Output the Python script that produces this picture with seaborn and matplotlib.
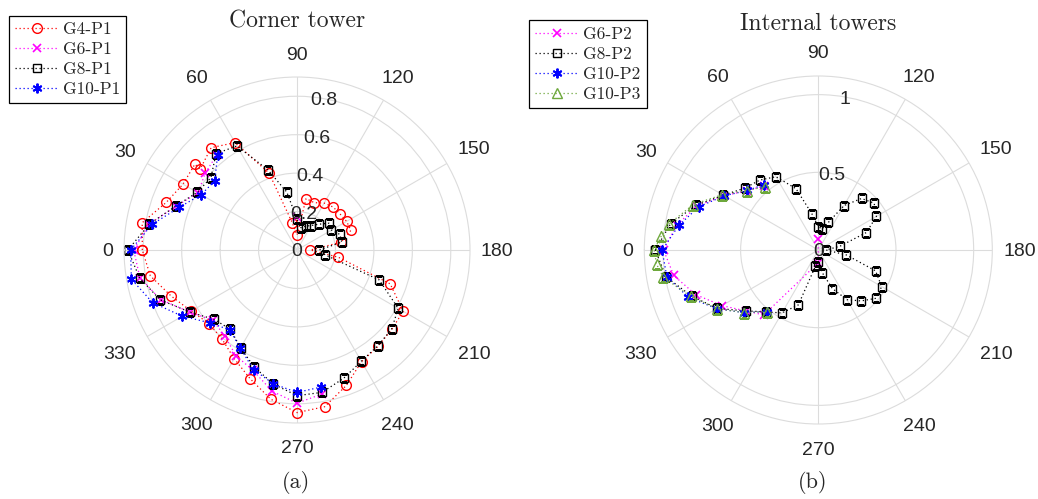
import numpy as np
import seaborn as sns
import matplotlib.pyplot as plt

# ---- (a) Corner tower ----
g4_p1_ang = [0, 10, 20, 30, 40, 40, 50, 60, 70, 80, 90, 100, 110, 120, 130, 140, 150, 160, 170, 180,
             190, 200, 210, 220, 230, 240, 250, 260, 270, 280, 290, 300, 310, 320, 330, 340, 350]
g4_p1_r = [0.805, 0.818, 0.724, 0.685, 0.694, 0.657, 0.695, 0.645, 0.426, 0.145,
           0.078, 0.272, 0.262, 0.282, 0.292, 0.292, 0.298, 0.298, 0.232, 0.07,
           0.219, 0.516, 0.638, 0.643, 0.655, 0.671, 0.75, 0.828, 0.846, 0.788,
           0.713, 0.653, 0.606, 0.596, 0.636, 0.698, 0.775]

g6_p1_ang = [260, 270, 280, 290, 300, 310, 320, 330, 340, 350, 0, 10, 20, 30, 40, 50]
g6_p1_r = [0.76, 0.797, 0.746, 0.667, 0.635, 0.585, 0.57, 0.645, 0.755, 0.83,
           0.85, 0.78, 0.668, 0.595, 0.623, 0.648]
g6_p1_extra_ang = [90]
g6_p1_extra_r = [0.173]

g8_p1_ang = [0, 10, 20, 30, 40, 50, 60, 70, 80, 90, 100, 110, 120, 130, 140, 150, 160, 170,
             180, 190, 200, 210, 220, 230, 240, 250, 260, 270, 280, 290, 300, 310, 320, 330, 340, 350]
g8_p1_r = [0.88, 0.78, 0.67, 0.60, 0.585, 0.655, 0.625, 0.444, 0.306, 0.16,
           0.118, 0.132, 0.147, 0.175, 0.217, 0.207, 0.237, 0.236, 0.115, 0.15,
           0.455, 0.608, 0.642, 0.652, 0.669, 0.71, 0.752, 0.758, 0.708, 0.649,
           0.588, 0.539, 0.562, 0.645, 0.758, 0.832]

g10_p1_ang = [260, 270, 280, 290, 300, 310, 320, 330, 340, 350, 0, 10, 20, 30, 40, 50]
g10_p1_r = [0.724, 0.741, 0.707, 0.662, 0.59, 0.543, 0.59, 0.689, 0.80, 0.875,
            0.866, 0.766, 0.651, 0.576, 0.559, 0.643]

# ---- (b) Internal towers ----
g6_p2_ang = [90, 270, 310, 320, 330, 340, 350, 0, 10, 20, 30, 40, 50]
g6_p2_r = [0.069, 0.082, 0.546, 0.61, 0.716, 0.84, 0.945, 0.996, 0.925, 0.83, 0.70, 0.595, 0.54]

g8_p2_ang = g8_p1_ang
g8_p2_r = [1.05, 0.966, 0.84, 0.706, 0.619, 0.587, 0.545, 0.42, 0.236, 0.151,
           0.138, 0.189, 0.33, 0.433, 0.469, 0.432, 0.329, 0.142, 0.05, 0.183,
           0.392, 0.471, 0.484, 0.428, 0.369, 0.264, 0.149, 0.08, 0.106, 0.376,
           0.468, 0.52, 0.61, 0.752, 0.868, 0.995]

g10_p2_ang = [310, 320, 330, 340, 350, 0, 10, 20, 30, 40, 50]
g10_p2_r = [0.517, 0.627, 0.755, 0.89, 0.99, 1.006, 0.912, 0.817, 0.698, 0.596, 0.548]

g10_p3_ang = [310, 320, 330, 340, 350, 355, 0, 5, 10, 20, 30, 40, 50]
g10_p3_r = [0.517, 0.627, 0.754, 0.874, 1.013, 1.045, 1.057, 1.015, 0.974, 0.856, 0.713, 0.595, 0.532]

DPI = 100
TICK_FONT = 'Liberation Sans'
SERIF = 'cmr10'
TICK_SIZE = 14
GRID = '#dcdcdc'
GREEN = '#6ea83c'

sns.set_style('white')

fig = plt.figure(figsize=(10.38, 4.99), dpi=DPI)


def series(ax, ang, r, color, marker, ms, label=None, close=False, mew=1.0):
    th = np.deg2rad(np.array(ang, dtype=float))
    rr = np.array(r, dtype=float)
    if close:
        th = np.append(th, th[0] + 2 * np.pi)
        rr = np.append(rr, rr[0])
    sns.lineplot(x=th, y=rr, ax=ax, sort=False, estimator=None, legend=False,
                 color=color, lw=0.9, linestyle=(0, (1, 2.2)),
                 marker=marker, markersize=ms, mfc='none', mec=color, mew=mew)
    line = ax.lines[-1]
    if label:
        line.set_label(label)
    return line


def setup_polar(ax, rmax, rticks, rlabels):
    ax.set_theta_zero_location('W')
    ax.set_theta_direction(-1)
    ax.set_ylim(0, rmax)
    ax.set_xticks(np.deg2rad(np.arange(0, 360, 30)))
    ax.set_xticklabels([])
    ax.set_yticks(rticks)
    ax.set_yticklabels([])
    ax.grid(True, color=GRID, lw=0.8)
    ax.spines['polar'].set_edgecolor(GRID)
    ax.spines['polar'].set_linewidth(0.8)
    ax.set_xlabel('')
    ax.set_ylabel('')
    ax.set_facecolor('none')

    em = TICK_SIZE * DPI / 72
    for deg in range(0, 360, 30):
        t = np.deg2rad(deg)
        ux, uy = -np.cos(t), np.sin(t)
        txt = str(deg)
        w = len(txt) * 0.556 * em / 2 + 11
        h = 0.72 * em / 2 + 17
        cands = []
        if abs(ux) > 1e-6:
            cands.append(w / abs(ux))
        if abs(uy) > 1e-6:
            cands.append(h / abs(uy))
        s = min(cands) * 72 / DPI
        ax.annotate(txt, xy=(t, rmax), xytext=(ux * s, uy * s), textcoords='offset points',
                    ha='center', va='center_baseline', fontsize=TICK_SIZE,
                    family=TICK_FONT, annotation_clip=False)

    ax.text(0, 0, '0', ha='center', va='center_baseline', fontsize=TICK_SIZE,
            family=TICK_FONT, zorder=5)
    for rv, lab in zip(rticks, rlabels):
        ax.text(np.deg2rad(100), rv, lab, ha='center', va='center_baseline',
                fontsize=TICK_SIZE, family=TICK_FONT, zorder=5)


# left panel
ax1 = fig.add_axes([0.1195, 0.1523, 0.3333, 0.6934], projection='polar')
h = []
h.append(series(ax1, g4_p1_ang, g4_p1_r, 'red', 'o', 7.0, 'G4-P1', close=True))
h.append(series(ax1, g6_p1_ang, g6_p1_r, 'magenta', 'x', 6.0, 'G6-P1', mew=1.2))
series(ax1, g6_p1_extra_ang, g6_p1_extra_r, 'magenta', 'x', 6.0, mew=1.2)
h.append(series(ax1, g8_p1_ang, g8_p1_r, 'black', 's', 6.0, 'G8-P1', close=True))
h.append(series(ax1, g10_p1_ang, g10_p1_r, 'blue', (6, 2, 0), 7.0, 'G10-P1', mew=1.4))
setup_polar(ax1, 0.9, [0.2, 0.4, 0.6, 0.8], ['0.2', '0.4', '0.6', '0.8'])

leg_kw = dict(loc='upper left', borderaxespad=0, frameon=True, fancybox=False,
              edgecolor='black', framealpha=1, handlelength=2.5, handletextpad=0.25,
              labelspacing=0.27, borderpad=0.35, prop={'family': SERIF, 'size': 12.5})
l1 = fig.legend(handles=h, bbox_to_anchor=(0.0087, 0.968), **leg_kw)
l1.get_frame().set_linewidth(0.9)

fig.text(0.2861, 0.958, 'Corner tower', family=SERIF, fontsize=17, ha='center', va='center')
fig.text(0.2852, 0.034, '(a)', family=SERIF, fontsize=16, ha='center', va='center')

# right panel
ax2 = fig.add_axes([0.6207, 0.1503, 0.3353, 0.6974], projection='polar')
h2 = []
h2.append(series(ax2, g6_p2_ang, g6_p2_r, 'magenta', 'x', 6.0, 'G6-P2', mew=1.2))
h2.append(series(ax2, g8_p2_ang, g8_p2_r, 'black', 's', 6.0, 'G8-P2', close=True))
h2.append(series(ax2, g10_p2_ang, g10_p2_r, 'blue', (6, 2, 0), 7.0, 'G10-P2', mew=1.4))
h2.append(series(ax2, g10_p3_ang, g10_p3_r, GREEN, '^', 7.0, 'G10-P3'))
setup_polar(ax2, 1.12, [0.5, 1.0], ['0.5', '1'])

l2 = fig.legend(handles=h2, bbox_to_anchor=(0.5099, 0.959), **leg_kw)
l2.get_frame().set_linewidth(0.9)

fig.text(0.788, 0.953, 'Internal towers', family=SERIF, fontsize=17, ha='center', va='center')
fig.text(0.783, 0.034, '(b)', family=SERIF, fontsize=16, ha='center', va='center')

fig.savefig('out.png', dpi=DPI)
